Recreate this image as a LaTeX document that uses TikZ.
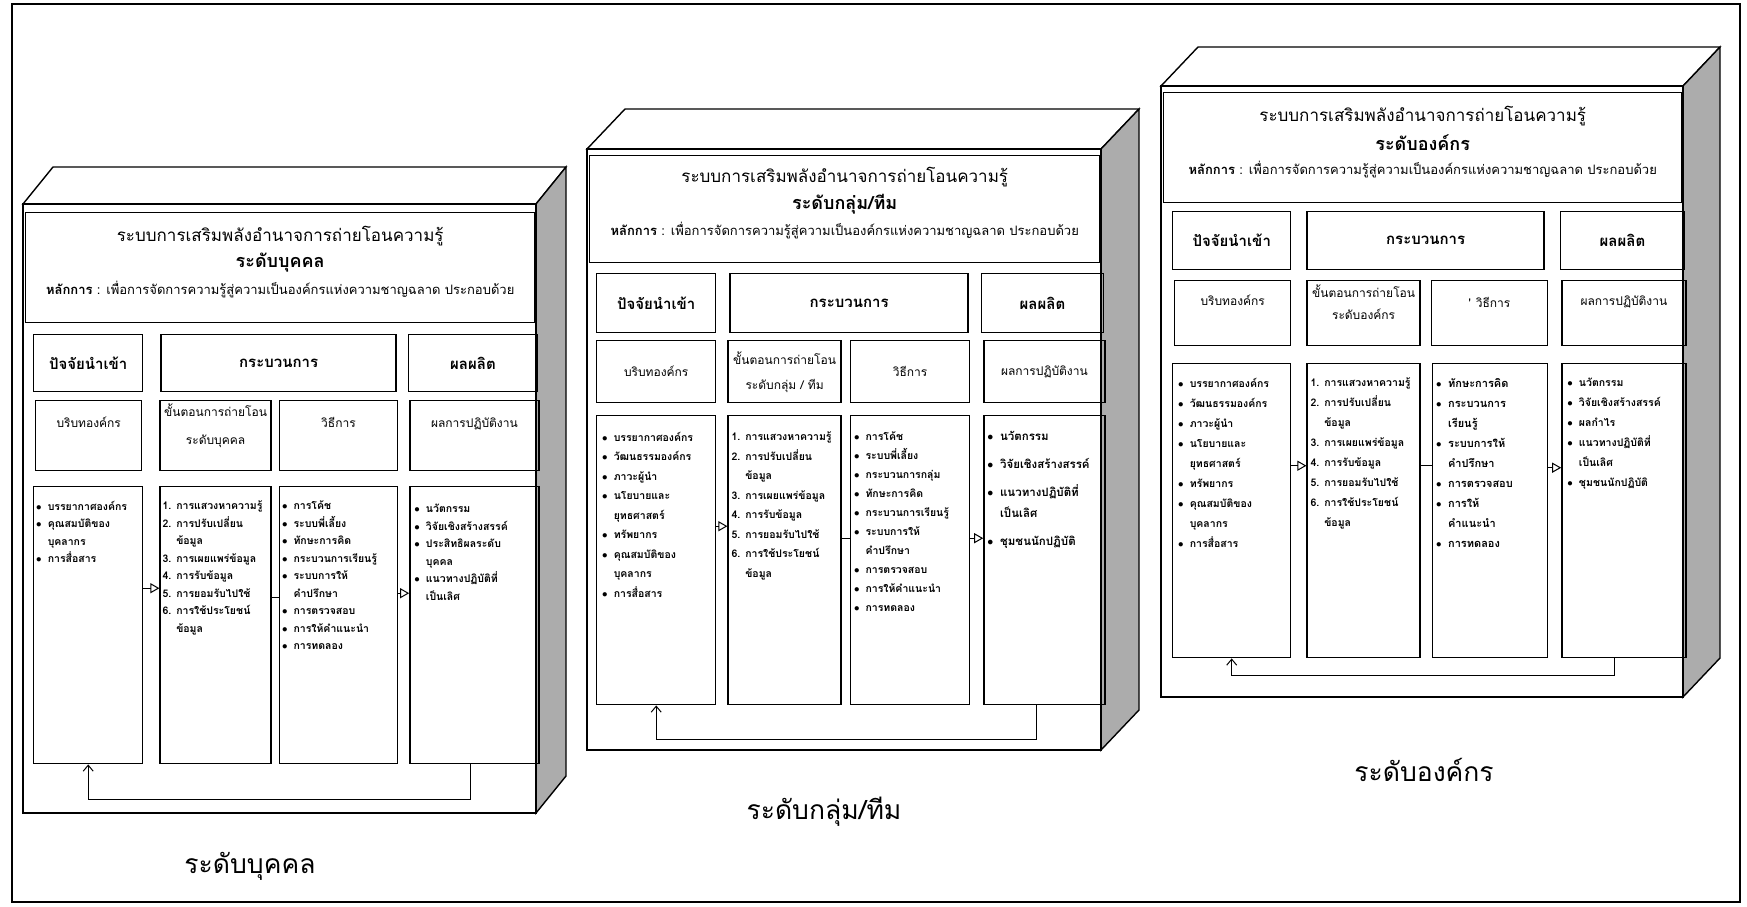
\documentclass[tikz,border=0pt]{standalone}
\usepackage{fontspec}
\newfontfamily\thaifont[Script=Thai]{Loma}
\usetikzlibrary{positioning,arrows.meta}

\newcommand{\bitem}[1]{\makebox[1.1em][l]{$\bullet$}#1}
\newcommand{\bcont}[1]{\hspace*{1.1em}#1}
\newcommand{\nitem}[2]{\makebox[1.3em][l]{#1.}#2}
\newcommand{\ncont}[1]{\hspace*{1.3em}#1}
\newcommand{\sysname}{ระบบการเสริมพลังอำนาจการถ่ายโอนความรู้}
\newcommand{\rulename}{\textbf{หลักการ} : เพื่อการจัดการความรู้สู่ความเป็นองค์กรแห่งความชาญฉลาด ประกอบด้วย}

\begin{document}
\begin{tikzpicture}[x=1pt, y=-1pt,
    face/.style={draw, line width=1.4pt, fill=white},
    side/.style={draw, line width=1.4pt, fill=gray!65},
    cell/.style={draw, line width=1.4pt, inner sep=0pt, align=center, anchor=north west},
    headcell/.style={cell, font=\thaifont\bfseries\fontsize{15}{18}\selectfont},
    subcell/.style={cell, font=\thaifont\fontsize{12}{#1}\selectfont},
    subcell/.default=14,
    titletext/.style={inner sep=0pt, font=\thaifont\fontsize{17}{20}\selectfont},
    leveltext/.style={inner sep=0pt, font=\thaifont\bfseries\fontsize{18}{21}\selectfont},
    ruletext/.style={inner sep=0pt, font=\thaifont\fontsize{13}{15}\selectfont},
    listtext/.style={anchor=north west, inner sep=0pt, align=left,
        font=\thaifont\bfseries\fontsize{10.5}{#1}\selectfont},
    listtext/.default=17.5,
    flow/.style={line width=1pt, -{Triangle[open,length=9pt,width=10pt]}},
    link/.style={line width=1pt},
    back/.style={line width=1pt, -{Straight Barb[length=6pt,width=10pt]}},
    caption/.style={font=\thaifont\fontsize{26.5}{30}\selectfont}
]
\useasboundingbox (0,0) rectangle (1747,906);
\draw[line width=1.4pt] (12,4) rectangle (1740,902);

    % Individual level
    \draw[face] (23,204) -- ++(30,-37) -- ++(513,0) -- (536,204) -- cycle;
    \draw[side] (536,204) -- ++(30,-37) -- ++(0,609) -- (536,813) -- cycle;
    \draw[face] (23,204) rectangle (536,813);
    \node[cell, minimum width=509pt, minimum height=110pt] (p1titlebox) at (25,212) {};
    \node[titletext] (p1name) at ([yshift=-24pt]p1titlebox.north) {\sysname};
    \node[leveltext] (p1level) at ([yshift=-51pt]p1titlebox.north) {ระดับบุคคล};
    \node[ruletext] (p1rule) at ([yshift=-78pt]p1titlebox.north) {\rulename};

    \node[headcell, text width=109pt, minimum height=57pt] (p1inhead) at (33,334) {ปัจจัยนำเข้า};
    \node[headcell, text width=235pt, minimum height=57pt,
        right=17pt of p1inhead] (p1prochead) {กระบวนการ};
    \node[headcell, text width=129pt, minimum height=57pt,
        right=11pt of p1prochead] (p1outhead) {ผลผลิต};

    \node[subcell=28, text width=106pt, text height=27pt, text depth=43pt] (p1context) at (35,400) {บริบทองค์กร};
    \node[subcell=28, text width=111pt, text height=16pt, text depth=54pt,
        right=17pt of p1context] (p1step) {ขั้นตอนการถ่ายโอน\\ระดับบุคคล};
    \node[subcell=28, text width=118pt, text height=27pt, text depth=43pt,
        right=7pt of p1step] (p1method) {วิธีการ};
    \node[subcell=28, text width=129pt, text height=27pt, text depth=43pt,
        right=11pt of p1method] (p1result) {ผลการปฏิบัติงาน};

    \node[cell, minimum width=109pt, minimum height=277pt] (p1inbox) at (33,486) {};
    \node[cell, minimum width=111pt, minimum height=277pt,
        right=16pt of p1inbox] (p1stepbox) {};
    \node[cell, minimum width=118pt, minimum height=277pt,
        right=7pt of p1stepbox] (p1methodbox) {};
    \node[cell, minimum width=129pt, minimum height=277pt,
        right=11pt of p1methodbox] (p1outbox) {};

    \node[listtext] (p1inlist) at ([shift={(3pt,-15pt)}]p1inbox.north west)
        {\bitem{บรรยากาศองค์กร}\\ \bitem{คุณสมบัติของ}\\ \bcont{บุคลากร}\\ \bitem{การสื่อสาร}};
    \node[listtext] (p1steplist) at ([shift={(3pt,-15pt)}]p1stepbox.north west)
        {\nitem{1}{การแสวงหาความรู้}\\ \nitem{2}{การปรับเปลี่ยน}\\ \ncont{ข้อมูล}\\
         \nitem{3}{การเผยแพร่ข้อมูล}\\ \nitem{4}{การรับข้อมูล}\\ \nitem{5}{การยอมรับไปใช้}\\
         \nitem{6}{การใช้ประโยชน์}\\ \ncont{ข้อมูล}};
    \node[listtext] (p1methodlist) at ([shift={(3pt,-15pt)}]p1methodbox.north west)
        {\bitem{การโค้ช}\\ \bitem{ระบบพี่เลี้ยง}\\ \bitem{ทักษะการคิด}\\ \bitem{กระบวนการเรียนรู้}\\
         \bitem{ระบบการให้}\\ \bcont{คำปรึกษา}\\ \bitem{การตรวจสอบ}\\ \bitem{การให้คำแนะนำ}\\
         \bitem{การทดลอง}};
    \node[listtext] (p1outlist) at ([shift={(5pt,-18pt)}]p1outbox.north west)
        {\bitem{นวัตกรรม}\\ \bitem{วิจัยเชิงสร้างสรรค์}\\ \bitem{ประสิทธิผลระดับ}\\ \bcont{บุคคล}\\
         \bitem{แนวทางปฏิบัติที่}\\ \bcont{เป็นเลิศ}};

    \draw[flow] ([yshift=37pt]p1inbox.east) -- ([yshift=37pt]p1stepbox.west);
    \draw[link] ([yshift=28pt]p1stepbox.east) -- ([yshift=28pt]p1methodbox.west);
    \draw[flow] ([yshift=32pt]p1methodbox.east) -- ([yshift=32pt]p1outbox.west);
    \draw[back] ([xshift=-4pt]p1outbox.south) -- ++(0,35) -| (p1inbox.south);

    \node[caption] (p1cap) at (250,866) {ระดับบุคคล};

    % Group / team level
    \draw[face] (587,149) -- ++(38,-40) -- ++(514,0) -- (1101,149) -- cycle;
    \draw[side] (1101,149) -- ++(38,-40) -- ++(0,601) -- (1101,750) -- cycle;
    \draw[face] (587,149) rectangle (1101,750);
    \node[cell, minimum width=510pt, minimum height=107pt] (p2titlebox) at (589,155) {};
    \node[titletext] (p2name) at ([yshift=-22pt]p2titlebox.north) {\sysname};
    \node[leveltext] (p2level) at ([yshift=-49pt]p2titlebox.north) {ระดับกลุ่ม/ทีม};
    \node[ruletext] (p2rule) at ([yshift=-76pt]p2titlebox.north) {\rulename};

    \node[headcell, text width=119pt, minimum height=59pt] (p2inhead) at (596,273) {ปัจจัยนำเข้า};
    \node[headcell, text width=238pt, minimum height=59pt,
        right=13pt of p2inhead] (p2prochead) {กระบวนการ};
    \node[headcell, text width=122pt, minimum height=59pt,
        right=12pt of p2prochead] (p2outhead) {ผลผลิต};

    \node[subcell=25, text width=119pt, minimum height=62pt] (p2context) at (596,340) {บริบทองค์กร};
    \node[subcell=25, text width=113pt, minimum height=62pt,
        right=11pt of p2context] (p2step) {ขั้นตอนการถ่ายโอน\\ระดับกลุ่ม / ทีม};
    \node[subcell=25, text width=119pt, minimum height=62pt,
        right=8pt of p2step] (p2method) {วิธีการ};
    \node[subcell=25, text width=121pt, minimum height=62pt,
        right=13pt of p2method] (p2result) {ผลการปฏิบัติงาน};

    \node[cell, minimum width=119pt, minimum height=289pt] (p2inbox) at (596,415) {};
    \node[cell, minimum width=113pt, minimum height=289pt,
        right=11pt of p2inbox] (p2stepbox) {};
    \node[cell, minimum width=119pt, minimum height=289pt,
        right=8pt of p2stepbox] (p2methodbox) {};
    \node[cell, minimum width=121pt, minimum height=289pt,
        right=13pt of p2methodbox] (p2outbox) {};

    \node[listtext=19.5] (p2inlist) at ([shift={(6pt,-17pt)}]p2inbox.north west)
        {\bitem{บรรยากาศองค์กร}\\ \bitem{วัฒนธรรมองค์กร}\\ \bitem{ภาวะผู้นำ}\\ \bitem{นโยบายและ}\\
         \bcont{ยุทธศาสตร์}\\ \bitem{ทรัพยากร}\\ \bitem{คุณสมบัติของ}\\ \bcont{บุคลากร}\\
         \bitem{การสื่อสาร}};
    \node[listtext=19.5] (p2steplist) at ([shift={(4pt,-17pt)}]p2stepbox.north west)
        {\nitem{1}{การแสวงหาความรู้}\\ \nitem{2}{การปรับเปลี่ยน}\\ \ncont{ข้อมูล}\\
         \nitem{3}{การเผยแพร่ข้อมูล}\\ \nitem{4}{การรับข้อมูล}\\ \nitem{5}{การยอมรับไปใช้}\\
         \nitem{6}{การใช้ประโยชน์}\\ \ncont{ข้อมูล}};
    \node[listtext=19] (p2methodlist) at ([shift={(4pt,-17pt)}]p2methodbox.north west)
        {\bitem{การโค้ช}\\ \bitem{ระบบพี่เลี้ยง}\\ \bitem{กระบวนการกลุ่ม}\\ \bitem{ทักษะการคิด}\\
         \bitem{กระบวนการเรียนรู้}\\ \bitem{ระบบการให้}\\ \bcont{คำปรึกษา}\\ \bitem{การตรวจสอบ}\\
         \bitem{การให้คำแนะนำ}\\ \bitem{การทดลอง}};
    \node[listtext=21, font=\thaifont\bfseries\fontsize{11.5}{21}\selectfont] (p2outlist)
        at ([shift={(4pt,-16pt)}]p2outbox.north west)
        {\bitem{นวัตกรรม}\\[7pt] \bitem{วิจัยเชิงสร้างสรรค์}\\[7pt] \bitem{แนวทางปฏิบัติที่}\\
         \bcont{เป็นเลิศ}\\[7pt] \bitem{ชุมชนนักปฏิบัติ}};

    \draw[flow] ([yshift=34pt]p2inbox.east) -- ([yshift=34pt]p2stepbox.west);
    \draw[link] ([yshift=22pt]p2stepbox.east) -- ([yshift=22pt]p2methodbox.west);
    \draw[flow] ([yshift=22pt]p2methodbox.east) -- ([yshift=22pt]p2outbox.west);
    \draw[back] ([xshift=-8pt]p2outbox.south) -- ++(0,34) -| (p2inbox.south);

    \node[caption] (p2cap) at (824,812) {ระดับกลุ่ม/ทีม};

    % Organisation level
    \draw[face] (1161,86) -- ++(37,-39) -- ++(522,0) -- (1683,86) -- cycle;
    \draw[side] (1683,86) -- ++(37,-39) -- ++(0,611) -- (1683,697) -- cycle;
    \draw[face] (1161,86) rectangle (1683,697);
    \node[cell, minimum width=518pt, minimum height=110pt] (p3titlebox) at (1163,92) {};
    \node[titletext] (p3name) at ([yshift=-24pt]p3titlebox.north) {\sysname};
    \node[leveltext] (p3level) at ([yshift=-51pt]p3titlebox.north) {ระดับองค์กร};
    \node[ruletext] (p3rule) at ([yshift=-78pt]p3titlebox.north) {\rulename};

    \node[headcell, text width=118pt, minimum height=58pt] (p3inhead) at (1172,211) {ปัจจัยนำเข้า};
    \node[headcell, text width=237pt, minimum height=58pt,
        right=15pt of p3inhead] (p3prochead) {กระบวนการ};
    \node[headcell, text width=124pt, minimum height=58pt,
        right=15pt of p3prochead] (p3outhead) {ผลผลิต};

    \node[subcell=22, text width=116pt, text height=25pt, text depth=40pt] (p3context) at (1174,280) {บริบทองค์กร};
    \node[subcell=22, text width=113pt, text height=17pt, text depth=48pt,
        right=15pt of p3context] (p3step) {ขั้นตอนการถ่ายโอน\\ระดับองค์กร};
    \node[subcell=22, text width=116pt, text height=27pt, text depth=38pt,
        right=10pt of p3step] (p3method) {'\hspace{5pt}วิธีการ};
    \node[subcell=22, text width=124pt, text height=25pt, text depth=40pt,
        right=13pt of p3method] (p3result) {ผลการปฏิบัติงาน};

    \node[cell, minimum width=118pt, minimum height=294pt] (p3inbox) at (1172,363) {};
    \node[cell, minimum width=113pt, minimum height=294pt,
        right=15pt of p3inbox] (p3stepbox) {};
    \node[cell, minimum width=115pt, minimum height=294pt,
        right=11pt of p3stepbox] (p3methodbox) {};
    \node[cell, minimum width=124pt, minimum height=294pt,
        right=13pt of p3methodbox] (p3outbox) {};

    \node[listtext=20] (p3inlist) at ([shift={(6pt,-15pt)}]p3inbox.north west)
        {\bitem{บรรยากาศองค์กร}\\ \bitem{วัฒนธรรมองค์กร}\\ \bitem{ภาวะผู้นำ}\\ \bitem{นโยบายและ}\\
         \bcont{ยุทธศาสตร์}\\ \bitem{ทรัพยากร}\\ \bitem{คุณสมบัติของ}\\ \bcont{บุคลากร}\\
         \bitem{การสื่อสาร}};
    \node[listtext=20] (p3steplist) at ([shift={(4pt,-15pt)}]p3stepbox.north west)
        {\nitem{1}{การแสวงหาความรู้}\\ \nitem{2}{การปรับเปลี่ยน}\\ \ncont{ข้อมูล}\\
         \nitem{3}{การเผยแพร่ข้อมูล}\\ \nitem{4}{การรับข้อมูล}\\ \nitem{5}{การยอมรับไปใช้}\\
         \nitem{6}{การใช้ประโยชน์}\\ \ncont{ข้อมูล}};
    \node[listtext=20, font=\thaifont\bfseries\fontsize{11}{20}\selectfont] (p3methodlist)
        at ([shift={(4pt,-15pt)}]p3methodbox.north west)
        {\bitem{ทักษะการคิด}\\ \bitem{กระบวนการ}\\ \bcont{เรียนรู้}\\ \bitem{ระบบการให้}\\
         \bcont{คำปรึกษา}\\ \bitem{การตรวจสอบ}\\ \bitem{การให้}\\ \bcont{คำแนะนำ}\\
         \bitem{การทดลอง}};
    \node[listtext=20] (p3outlist) at ([shift={(6pt,-15pt)}]p3outbox.north west)
        {\bitem{นวัตกรรม}\\ \bitem{วิจัยเชิงสร้างสรรค์}\\ \bitem{ผลกำไร}\\ \bitem{แนวทางปฏิบัติที่}\\
         \bcont{เป็นเลิศ}\\ \bitem{ชุมชนนักปฏิบัติ}};

    \draw[flow] ([yshift=45pt]p3inbox.east) -- ([yshift=45pt]p3stepbox.west);
    \draw[link] ([yshift=45pt]p3stepbox.east) -- ([yshift=45pt]p3methodbox.west);
    \draw[flow] ([yshift=43pt]p3methodbox.east) -- ([yshift=43pt]p3outbox.west);
    \draw[back] ([xshift=-9pt]p3outbox.south) -- ++(0,17) -| (p3inbox.south);

    \node[caption] (p3cap) at (1424,770) {ระดับองค์กร};
\end{tikzpicture}
\end{document}
